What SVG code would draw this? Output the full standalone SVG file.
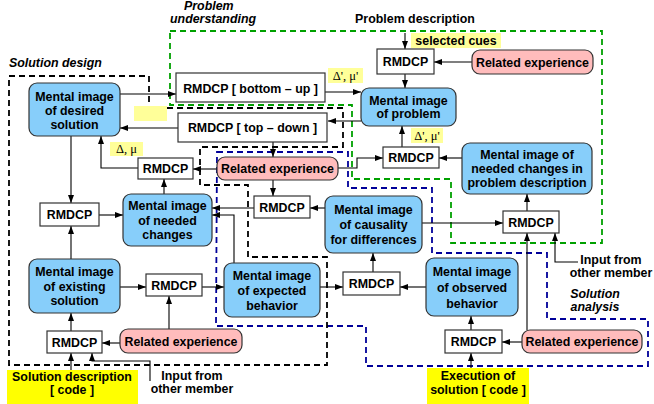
<svg xmlns="http://www.w3.org/2000/svg" width="654" height="404" viewBox="0 0 654 404">
<defs>
<marker id="ah" markerUnits="userSpaceOnUse" markerWidth="9" markerHeight="7" refX="8" refY="3.5" orient="auto">
<path d="M0,0.5 L8,3.5 L0,6.5 z" fill="#000"/>
</marker>
<style>
.t{font-family:"Liberation Sans",Arial,sans-serif;font-weight:bold;font-size:12.4px;fill:#000;text-anchor:middle}
.ti{font-family:"Liberation Sans",Arial,sans-serif;font-weight:bold;font-style:italic;font-size:12.4px;fill:#000}
.g{font-family:"Liberation Serif","Times New Roman",serif;font-size:12.5px;fill:#000;text-anchor:middle}
.mi{fill:#87cefa;stroke:#333;stroke-width:1.2}
.re{fill:#ffbcbc;stroke:#333;stroke-width:1.2}
.rm{fill:#fff;stroke:#333;stroke-width:1.2}
.ly{fill:#ffff99}
.by{fill:#ffff00}
.c path{fill:none;stroke:#000;stroke-width:1.1;marker-end:url(#ah)}
.dk{fill:none;stroke:#000;stroke-width:1.8;stroke-dasharray:6,4}
.dg{fill:none;stroke:#00a000;stroke-width:1.8;stroke-dasharray:6,4}
.db{fill:none;stroke:#000099;stroke-width:1.8;stroke-dasharray:6,4}
</style>
</defs>
<rect width="654" height="404" fill="#fff"/>

<g id="regions">
<polygon class="dg" points="170,31 602,31 602,243 451,243 451,179 352,179 352,105 170,105"/>
<polygon class="db" points="217,152 348,152 348,188 432,188 432,253 547,253 547,319 648,319 648,366 366,366 366,326 216,326"/>
<polygon class="dk" points="9,76 149,76 149,108 343,108 343,147 200,147 200,185 248,185 248,257 327,257 327,365 9,365"/>
</g>

<g id="labels">
<text class="ti" x="184" y="10">Problem</text>
<text class="ti" x="170" y="23">understanding</text>
<text class="t" x="415" y="23">Problem description</text>
<text class="ti" x="9" y="67">Solution design</text>
<text class="ti" x="595" y="298" text-anchor="middle">Solution</text>
<text class="ti" x="595" y="311" text-anchor="middle">analysis</text>
<rect class="ly" x="411" y="33" width="90" height="15"/>
<text class="t" x="456" y="45">selected cues</text>
<rect class="ly" x="328" y="68" width="35" height="15"/>
<text class="g" x="345.5" y="80">Δ', μ'</text>
<rect class="ly" x="411" y="128" width="32" height="15"/>
<text class="g" x="427" y="140">Δ', μ'</text>
<rect class="ly" x="110" y="142" width="33" height="14"/>
<text class="g" x="126.5" y="153">Δ, μ</text>
<rect class="ly" x="134" y="106" width="33" height="15"/>
<text class="t" x="611" y="264">Input from</text>
<text class="t" x="611" y="277">other member</text>
<text class="t" x="192" y="380">Input from</text>
<text class="t" x="192" y="393">other member</text>
</g>

<g id="connectors" class="c">
<path d="M120,94 H176"/>
<path d="M178,128 H120"/>
<path d="M325,92 H361"/>
<path d="M361,121 H328"/>
<path d="M405,33 V49"/>
<path d="M472,62 H434"/>
<path d="M405,74 V88"/>
<path d="M402,147 V126"/>
<path d="M462,158 H439"/>
<path d="M338,168 H357 V158 H383"/>
<path d="M527,211 V194"/>
<path d="M422,223 H503"/>
<path d="M578,262 H555 V233"/>
<path d="M527,330 V233"/>
<path d="M522,342 H502"/>
<path d="M471,330 V316"/>
<path d="M471,368 V353"/>
<path d="M426,287 H400"/>
<path d="M373,272 V253"/>
<path d="M320,287 H343"/>
<path d="M325,208 H310"/>
<path d="M254,208 H212"/>
<path d="M234,263 V215 H212"/>
<path d="M273,180 V196"/>
<path d="M273,142 V157"/>
<path d="M217,169 H193"/>
<path d="M138,168 H101 V136"/>
<path d="M164,194 V179"/>
<path d="M71,136 V203"/>
<path d="M99,215 H123"/>
<path d="M71,259 V226"/>
<path d="M120,287 H146"/>
<path d="M202,287 H224"/>
<path d="M169,329 V296"/>
<path d="M120,343 H102"/>
<path d="M71,331 V313"/>
<path d="M71,370 V353"/>
<path d="M150,381 V361 H92 V353"/>
</g>

<g id="n-desired"><rect class="mi" x="29" y="83" width="91" height="53" rx="8"/>
<text class="t" x="74.5" y="101">Mental image</text><text class="t" x="74.5" y="115">of desired</text><text class="t" x="74.5" y="129">solution</text></g>

<g id="n-bottomup"><rect class="rm" x="176" y="73" width="149" height="29"/>
<text class="t" x="250.5" y="92.5">RMDCP [ bottom – up ]</text></g>

<g id="n-topdown"><rect class="rm" x="178" y="113" width="149" height="29"/>
<text class="t" x="252.5" y="132">RMDCP [ top – down ]</text></g>

<g id="n-rmdcp-top"><rect class="rm" x="377" y="49" width="57" height="25"/>
<text class="t" x="405.5" y="66">RMDCP</text></g>

<g id="n-re-top"><rect class="re" x="472" y="50" width="121" height="24" rx="8"/>
<text class="t" x="532.5" y="66.5">Related experience</text></g>

<g id="n-problem"><rect class="mi" x="361" y="88" width="95" height="38" rx="8"/>
<text class="t" x="408.5" y="105">Mental image</text><text class="t" x="408.5" y="118">of problem</text></g>

<g id="n-rmdcp-prob"><rect class="rm" x="383" y="147" width="56" height="21"/>
<text class="t" x="411" y="162">RMDCP</text></g>

<g id="n-needed-pd"><rect class="mi" x="462" y="143" width="130" height="51" rx="8"/>
<text class="t" x="527" y="159">Mental image of</text><text class="t" x="527" y="173">needed changes in</text><text class="t" x="527" y="187">problem description</text></g>

<g id="n-rmdcp-right"><rect class="rm" x="503" y="211" width="56" height="22"/>
<text class="t" x="531" y="226.5">RMDCP</text></g>

<g id="n-causality"><rect class="mi" x="325" y="196" width="97" height="57" rx="8"/>
<text class="t" x="373.5" y="214">Mental image</text><text class="t" x="373.5" y="229">of causality</text><text class="t" x="373.5" y="244">for differences</text></g>

<g id="n-rmdcp-center"><rect class="rm" x="254" y="196" width="56" height="22"/>
<text class="t" x="282" y="211.5">RMDCP</text></g>

<g id="n-re-center"><rect class="re" x="217" y="157" width="121" height="23" rx="8"/>
<text class="t" x="277.5" y="173">Related experience</text></g>

<g id="n-rmdcp-lc"><rect class="rm" x="138" y="158" width="55" height="21"/>
<text class="t" x="165.5" y="173">RMDCP</text></g>

<g id="n-needed"><rect class="mi" x="123" y="194" width="89" height="52" rx="8"/>
<text class="t" x="167.5" y="210">Mental image</text><text class="t" x="167.5" y="225">of needed</text><text class="t" x="167.5" y="239">changes</text></g>

<g id="n-rmdcp-left"><rect class="rm" x="40" y="203" width="59" height="23"/>
<text class="t" x="69.5" y="219">RMDCP</text></g>

<g id="n-existing"><rect class="mi" x="29" y="259" width="91" height="54" rx="8"/>
<text class="t" x="74.5" y="276">Mental image</text><text class="t" x="74.5" y="291">of existing</text><text class="t" x="74.5" y="305">solution</text></g>

<g id="n-rmdcp-exist"><rect class="rm" x="146" y="274" width="56" height="22"/>
<text class="t" x="174" y="289.5">RMDCP</text></g>

<g id="n-expected"><rect class="mi" x="224" y="263" width="96" height="54" rx="8"/>
<text class="t" x="272" y="280">Mental image</text><text class="t" x="272" y="295">of expected</text><text class="t" x="272" y="310">behavior</text></g>

<g id="n-rmdcp-exp"><rect class="rm" x="343" y="272" width="57" height="23"/>
<text class="t" x="371.5" y="288">RMDCP</text></g>

<g id="n-observed"><rect class="mi" x="426" y="258" width="92" height="58" rx="8"/>
<text class="t" x="472" y="276">Mental image</text><text class="t" x="472" y="292">of observed</text><text class="t" x="472" y="308">behavior</text></g>

<g id="n-rmdcp-obs"><rect class="rm" x="445" y="330" width="57" height="23"/>
<text class="t" x="473.5" y="346">RMDCP</text></g>

<g id="n-re-br"><rect class="re" x="522" y="330" width="120" height="23" rx="8"/>
<text class="t" x="582" y="346">Related experience</text></g>

<g id="n-execution"><rect class="by" x="427" y="368" width="102" height="36"/>
<text class="t" x="478" y="380">Execution of</text><text class="t" x="478" y="394">solution [ code ]</text></g>

<g id="n-rmdcp-bl"><rect class="rm" x="47" y="331" width="55" height="22"/>
<text class="t" x="74.5" y="346.5">RMDCP</text></g>

<g id="n-re-bl"><rect class="re" x="120" y="329" width="122" height="24" rx="8"/>
<text class="t" x="181" y="345.5">Related experience</text></g>

<g id="n-soldesc"><rect class="by" x="7" y="370" width="131" height="34"/>
<text class="t" x="72" y="381">Solution description</text><text class="t" x="72" y="394">[ code ]</text></g>
</svg>
